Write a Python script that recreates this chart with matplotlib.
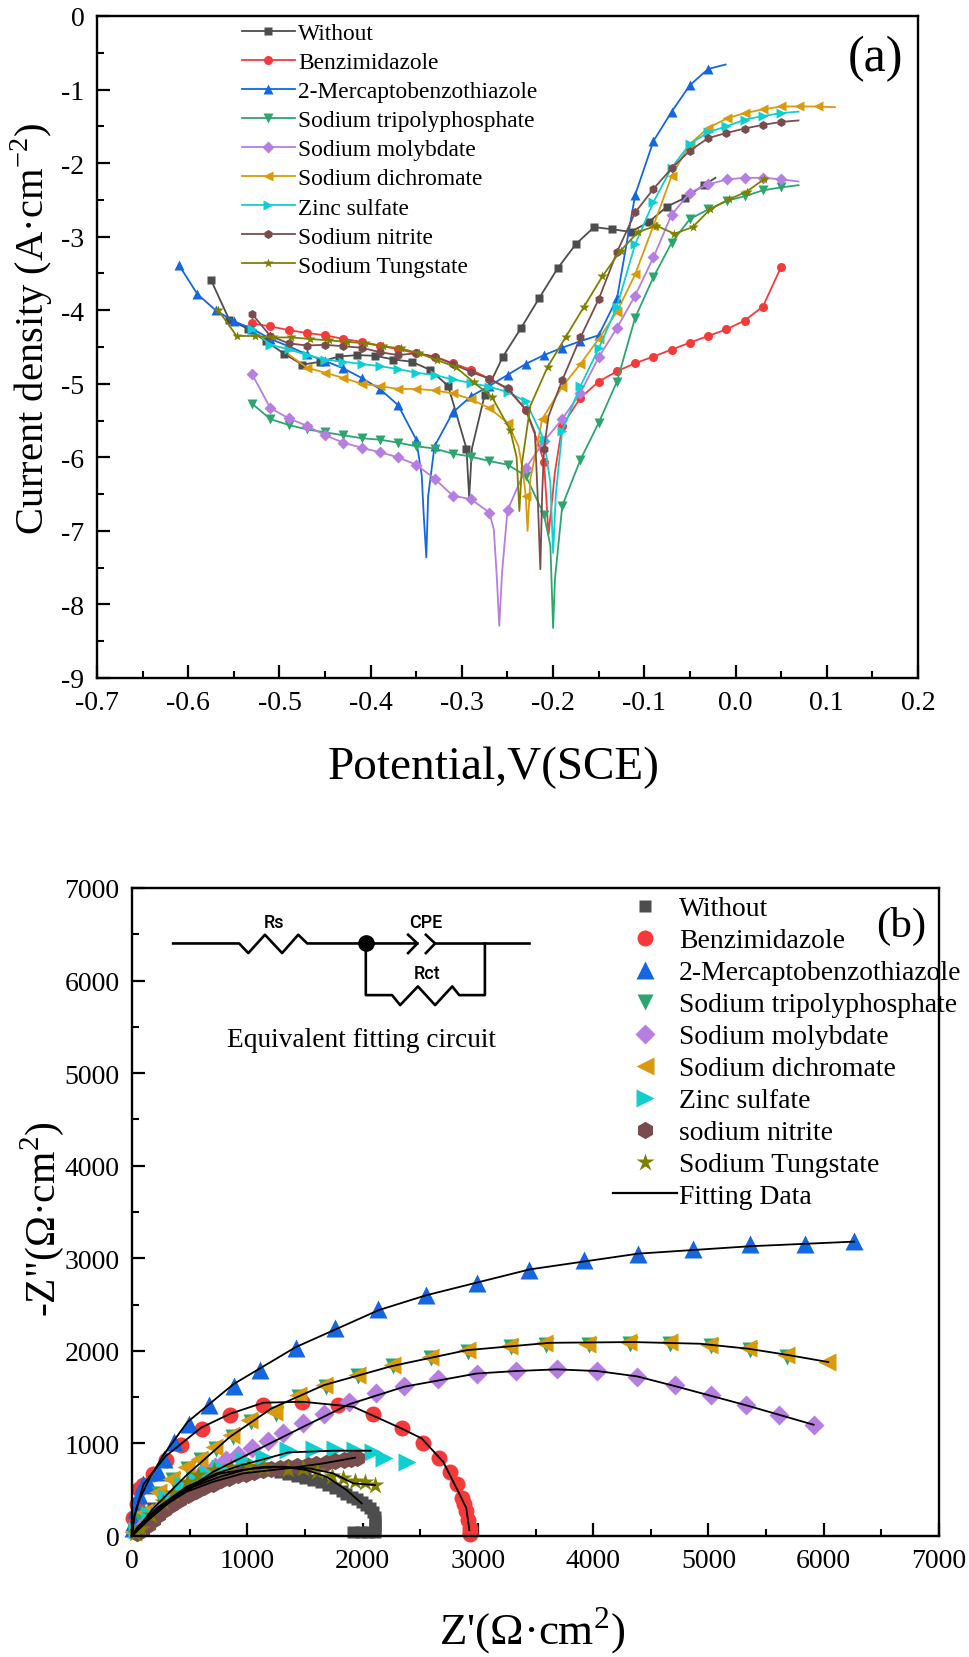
import matplotlib
matplotlib.use('Agg')
import matplotlib.pyplot as plt
from matplotlib.lines import Line2D
from matplotlib.ticker import MultipleLocator, FormatStrFormatter

plt.rcParams['font.family'] = ['Liberation Serif', 'DejaVu Serif']
plt.rcParams['mathtext.fontset'] = 'custom'
plt.rcParams['mathtext.rm'] = 'Liberation Serif'
plt.rcParams['axes.unicode_minus'] = False

W, H = 969, 1658

names_a = ['Without', 'Benzimidazole', '2-Mercaptobenzothiazole', 'Sodium tripolyphosphate',
           'Sodium molybdate', 'Sodium dichromate', 'Zinc sulfate', 'Sodium nitrite', 'Sodium Tungstate']
names_b = ['Without', 'Benzimidazole', '2-Mercaptobenzothiazole', 'Sodium tripolyphosphate',
           'Sodium molybdate', 'Sodium dichromate', 'Zinc sulfate', 'sodium nitrite', 'Sodium Tungstate']
colors = ['#4d4d4d', '#f63a3a', '#1467e0', '#2ba66f', '#b57ee0', '#d99b0c', '#10cfd0', '#794d4d', '#808000']
markers = ['s', 'o', '^', 'v', 'D', '<', '>', 'h', '*']

# (a) 极化曲线
V0 = [-0.575, -0.555, -0.535, -0.515, -0.495, -0.475, -0.455, -0.435, -0.415, -0.395, -0.375, -0.355, -0.335, -0.315, -0.295, -0.292, -0.289, -0.275, -0.255, -0.235, -0.215, -0.195, -0.175, -0.155, -0.135, -0.115, -0.095, -0.075, -0.055, -0.035, -0.022]
J0 = [-3.59, -4.13, -4.25, -4.42, -4.59, -4.74, -4.70, -4.63, -4.61, -4.62, -4.67, -4.70, -4.81, -5.03, -5.88, -6.55, -5.88, -5.15, -4.63, -4.24, -3.83, -3.43, -3.10, -2.87, -2.90, -2.935, -2.80, -2.59, -2.47, -2.30, -2.20]
skip0 = [15, 16, 30]

V1 = [-0.53, -0.51, -0.49, -0.47, -0.45, -0.43, -0.41, -0.39, -0.37, -0.35, -0.33, -0.31, -0.29, -0.27, -0.25, -0.23, -0.218, -0.21, -0.205, -0.198, -0.19, -0.17, -0.15, -0.13, -0.11, -0.09, -0.07, -0.05, -0.03, -0.01, 0.01, 0.03, 0.05]
J1 = [-4.18, -4.22, -4.27, -4.31, -4.34, -4.39, -4.43, -4.48, -4.53, -4.585, -4.63, -4.72, -4.81, -4.93, -5.07, -5.35, -5.75, -6.06, -7.05, -6.2, -5.57, -5.19, -4.97, -4.83, -4.72, -4.63, -4.535, -4.44, -4.35, -4.26, -4.14, -3.95, -3.41]
skip1 = [16, 18, 19]

V2 = [-0.61, -0.59, -0.57, -0.55, -0.53, -0.51, -0.49, -0.47, -0.45, -0.43, -0.41, -0.39, -0.37, -0.35, -0.344, -0.342, -0.339, -0.337, -0.33, -0.31, -0.29, -0.27, -0.25, -0.23, -0.21, -0.19, -0.17, -0.15, -0.13, -0.11, -0.09, -0.07, -0.05, -0.03, -0.011]
J2 = [-3.39, -3.78, -4.0, -4.15, -4.25, -4.39, -4.49, -4.6, -4.69, -4.79, -4.92, -5.07, -5.29, -5.76, -6.25, -6.75, -7.36, -6.53, -5.85, -5.39, -5.17, -5.03, -4.88, -4.73, -4.61, -4.51, -4.42, -4.34, -3.84, -2.43, -1.70, -1.30, -0.94, -0.72, -0.66]
skip2 = [14, 15, 16, 17, 34]

V3 = [-0.53, -0.51, -0.49, -0.47, -0.45, -0.43, -0.41, -0.39, -0.37, -0.35, -0.33, -0.31, -0.29, -0.27, -0.25, -0.23, -0.21, -0.203, -0.2, -0.198, -0.19, -0.17, -0.15, -0.13, -0.11, -0.09, -0.07, -0.05, -0.03, -0.009, 0.01, 0.03, 0.05, 0.069]
J3 = [-5.27, -5.48, -5.56, -5.62, -5.66, -5.70, -5.74, -5.76, -5.80, -5.85, -5.88, -5.95, -5.99, -6.05, -6.10, -6.25, -6.78, -7.2, -8.32, -7.66, -6.66, -6.03, -5.53, -4.97, -4.10, -3.55, -3.08, -2.76, -2.63, -2.51, -2.45, -2.37, -2.33, -2.30]
skip3 = [17, 18, 19, 33]

V4 = [-0.53, -0.51, -0.49, -0.47, -0.45, -0.43, -0.41, -0.39, -0.37, -0.35, -0.33, -0.31, -0.29, -0.27, -0.265, -0.262, -0.259, -0.256, -0.25, -0.23, -0.21, -0.19, -0.17, -0.15, -0.13, -0.11, -0.09, -0.07, -0.05, -0.03, -0.009, 0.01, 0.03, 0.05, 0.069]
J4 = [-4.87, -5.33, -5.47, -5.57, -5.70, -5.80, -5.87, -5.93, -6.0, -6.10, -6.29, -6.52, -6.57, -6.75, -6.98, -7.57, -8.29, -7.57, -6.72, -6.15, -5.78, -5.48, -5.12, -4.64, -4.24, -3.80, -3.28, -2.70, -2.40, -2.29, -2.22, -2.20, -2.20, -2.22, -2.25]
skip4 = [14, 15, 16, 17, 34]

V5 = [-0.49, -0.47, -0.45, -0.43, -0.41, -0.39, -0.37, -0.35, -0.33, -0.31, -0.29, -0.27, -0.25, -0.238, -0.233, -0.23, -0.228, -0.225, -0.212, -0.19, -0.17, -0.15, -0.13, -0.11, -0.09, -0.07, -0.05, -0.03, -0.009, 0.01, 0.03, 0.05, 0.07, 0.09, 0.109]
J5 = [-4.6, -4.78, -4.85, -4.92, -5.0, -5.03, -5.07, -5.07, -5.09, -5.13, -5.21, -5.33, -5.53, -5.85, -6.2, -6.53, -7.0, -6.30, -5.48, -5.04, -4.73, -4.39, -4.02, -3.51, -2.85, -2.17, -1.74, -1.52, -1.39, -1.32, -1.27, -1.23, -1.23, -1.23, -1.24]
skip5 = [0, 13, 14, 16, 17, 34]

V6 = [-0.53, -0.51, -0.49, -0.47, -0.45, -0.43, -0.41, -0.39, -0.37, -0.35, -0.33, -0.31, -0.29, -0.27, -0.25, -0.23, -0.21, -0.203, -0.2, -0.197, -0.19, -0.17, -0.15, -0.13, -0.11, -0.09, -0.07, -0.05, -0.03, -0.01, 0.01, 0.03, 0.05, 0.069]
J6 = [-4.26, -4.47, -4.53, -4.61, -4.67, -4.70, -4.73, -4.76, -4.80, -4.85, -4.88, -4.94, -4.99, -5.04, -5.11, -5.24, -5.76, -6.35, -7.3, -6.5, -5.64, -5.03, -4.52, -3.95, -3.10, -2.53, -2.06, -1.74, -1.58, -1.50, -1.41, -1.36, -1.32, -1.30]
skip6 = [17, 18, 19, 33]

V7 = [-0.53, -0.51, -0.49, -0.47, -0.45, -0.43, -0.41, -0.39, -0.37, -0.35, -0.33, -0.31, -0.29, -0.27, -0.25, -0.23, -0.22, -0.217, -0.214, -0.212, -0.21, -0.205, -0.19, -0.17, -0.15, -0.13, -0.11, -0.09, -0.07, -0.05, -0.03, -0.01, 0.01, 0.03, 0.05, 0.069]
J7 = [-4.05, -4.35, -4.45, -4.48, -4.47, -4.49, -4.51, -4.57, -4.61, -4.585, -4.63, -4.73, -4.84, -4.93, -5.06, -5.35, -5.66, -6.5, -7.52, -6.5, -5.89, -5.44, -4.95, -4.37, -3.85, -3.21, -2.67, -2.35, -2.07, -1.83, -1.66, -1.59, -1.53, -1.48, -1.44, -1.42]
skip7 = [16, 17, 18, 19, 21, 35]

V8 = [-0.567, -0.547, -0.527, -0.507, -0.487, -0.467, -0.446, -0.426, -0.406, -0.387, -0.367, -0.347, -0.327, -0.307, -0.287, -0.267, -0.247, -0.24, -0.237, -0.234, -0.225, -0.206, -0.186, -0.166, -0.146, -0.126, -0.107, -0.087, -0.067, -0.047, -0.028, -0.007, 0.012, 0.031]
J8 = [-4.0, -4.35, -4.35, -4.37, -4.37, -4.39, -4.41, -4.43, -4.45, -4.49, -4.52, -4.585, -4.68, -4.77, -4.98, -5.18, -5.63, -6.0, -6.73, -6.07, -5.30, -4.77, -4.36, -3.95, -3.54, -3.19, -2.94, -2.85, -2.96, -2.87, -2.63, -2.49, -2.39, -2.22]
skip8 = [17, 18, 19, 20]

series_a = [(V0, J0, skip0), (V1, J1, skip1), (V2, J2, skip2), (V3, J3, skip3), (V4, J4, skip4),
            (V5, J5, skip5), (V6, J6, skip6), (V7, J7, skip7), (V8, J8, skip8)]
ms_a = [5.5, 6.5, 7, 7, 6.5, 7, 7, 6.5, 7]

# (b) 阻抗谱 实测点
Zr0 = [26, 98, 185, 330, 532, 763, 966, 1139, 1284, 1356, 1428, 1500, 1572, 1640, 1702, 1760, 1818, 1860, 1905, 1950, 1992, 2030, 2064, 2090, 2107, 2107, 2107, 2107, 2107, 2050, 1985, 1920]
Zi0 = [40, 150, 300, 390, 530, 640, 700, 730, 694, 672, 651, 628, 604, 578, 550, 520, 489, 456, 424, 398, 370, 335, 299, 255, 209, 165, 119, 80, 47, 40, 40, 47]
Zr1 = [12, 40, 64, 98, 179, 295, 425, 607, 853, 1139, 1472, 1790, 2093, 2339, 2527, 2663, 2758, 2816, 2860, 2880, 2900, 2915, 2931, 2936, 2931]
Zi1 = [191, 349, 511, 551, 673, 817, 979, 1159, 1310, 1415, 1451, 1415, 1317, 1170, 1000, 838, 694, 558, 410, 350, 270, 170, 85, 45, 25]
Zr2 = [6, 20, 35, 64, 93, 150, 223, 280, 367, 497, 670, 887, 1110, 1422, 1760, 2136, 2550, 2989, 3446, 3923, 4389, 4869, 5357, 5837, 6265]
Zi2 = [83, 151, 290, 439, 565, 547, 691, 835, 1015, 1213, 1411, 1620, 1793, 2027, 2243, 2448, 2603, 2729, 2869, 2977, 3049, 3096, 3150, 3157, 3182]
Zr3 = [25, 80, 122, 238, 353, 483, 599, 729, 874, 1033, 1249, 1452, 1680, 1960, 2262, 2595, 2915, 3285, 3590, 3960, 4318, 4670, 5018, 5358, 5685]
Zi3 = [35, 180, 240, 456, 600, 726, 816, 942, 1068, 1230, 1320, 1500, 1612, 1724, 1832, 1920, 1992, 2038, 2068, 2060, 2078, 2078, 2050, 2014, 1935]
Zr4 = [40, 127, 243, 387, 517, 619, 720, 815, 922, 1044, 1182, 1307, 1486, 1665, 1885, 2116, 2362, 2657, 2989, 3330, 3683, 4036, 4383, 4707, 5025, 5329, 5615, 5912]
Zi4 = [47, 155, 299, 443, 586, 694, 749, 820, 874, 946, 1029, 1108, 1216, 1317, 1450, 1540, 1622, 1694, 1755, 1784, 1800, 1778, 1717, 1627, 1526, 1411, 1303, 1202]
Zr5 = [12, 107, 223, 338, 468, 584, 714, 859, 1018, 1234, 1437, 1665, 1949, 2252, 2585, 2903, 3270, 3574, 3949, 4305, 4658, 5005, 5346, 5672, 6031]
Zi5 = [47, 259, 475, 619, 745, 835, 961, 1087, 1249, 1339, 1519, 1630, 1737, 1845, 1935, 2007, 2054, 2084, 2077, 2095, 2095, 2066, 2030, 1951, 1879]
Zr6 = [40, 156, 301, 445, 555, 656, 763, 974, 1148, 1350, 1581, 1761, 1934, 2093, 2186, 2388]
Zi6 = [65, 227, 407, 551, 619, 673, 730, 817, 853, 932, 936, 939, 928, 910, 838, 802]
Zr7 = [40, 85, 136, 180, 223, 280, 338, 410, 483, 555, 627, 700, 772, 845, 916, 990, 1061, 1135, 1206, 1280, 1350, 1435, 1524, 1600, 1680, 1760, 1840, 1900, 1949]
Zi7 = [29, 70, 115, 170, 223, 280, 331, 385, 439, 485, 529, 567, 601, 630, 655, 675, 691, 710, 727, 738, 745, 752, 762, 778, 792, 806, 820, 830, 838]
Zr8 = [26, 78, 165, 272, 358, 474, 575, 714, 859, 1003, 1148, 1350, 1486, 1602, 1732, 1833, 1934, 2021, 2107]
Zi8 = [29, 79, 223, 371, 460, 586, 658, 709, 745, 756, 745, 720, 730, 701, 651, 622, 594, 579, 550]

series_b = [(Zr0, Zi0), (Zr1, Zi1), (Zr2, Zi2), (Zr3, Zi3), (Zr4, Zi4), (Zr5, Zi5), (Zr6, Zi6), (Zr7, Zi7), (Zr8, Zi8)]
ms_b = [9, 11.5, 13, 11.5, 10, 13, 13, 12.5, 13.5]

# 拟合曲线
fit_x0 = [0, 127, 330, 532, 763, 966, 1139, 1312, 1515, 1688, 1862, 1992]
fit_y0 = [0, 155, 371, 532, 640, 712, 748, 748, 712, 640, 496, 353]
fit_x1 = [0, 15, 100, 290, 600, 850, 1140, 1480, 1920, 2340, 2513, 2700, 2845, 2900, 2926]
fit_y1 = [0, 200, 560, 860, 1170, 1320, 1440, 1450, 1396, 1160, 1054, 800, 442, 300, 65]
fit_x2 = [0, 20, 60, 150, 270, 480, 880, 1420, 2140, 2550, 3450, 4390, 5360, 6265]
fit_y2 = [0, 200, 380, 620, 870, 1230, 1640, 2040, 2440, 2600, 2880, 3050, 3130, 3180]
fit_x4 = [0, 127, 358, 705, 1052, 1486, 1885, 2362, 2989, 3331, 3683, 4036, 4383, 4707, 5331, 5912]
fit_y4 = [0, 173, 406, 694, 910, 1180, 1424, 1613, 1755, 1782, 1800, 1782, 1724, 1620, 1411, 1202]
fit_x5 = [0, 40, 185, 474, 850, 1211, 1665, 2252, 2903, 3625, 4348, 4927, 5346, 5678, 6040]
fit_y5 = [0, 65, 299, 658, 1072, 1378, 1630, 1835, 2007, 2087, 2095, 2077, 2023, 1958, 1879]
fit_x6 = [0, 40, 214, 474, 734, 951, 1168, 1356, 1746, 2070]
fit_y6 = [0, 83, 299, 532, 676, 766, 838, 903, 921, 921]
fit_x7 = [0, 69, 243, 474, 705, 966, 1341, 1659, 1934]
fit_y7 = [0, 119, 299, 479, 586, 677, 730, 784, 846]
fit_x8 = [0, 40, 214, 474, 763, 1052, 1312, 1544, 1746, 1920, 2107]
fit_y8 = [0, 65, 281, 515, 676, 730, 748, 730, 676, 569, 550]
fits = [(fit_x0, fit_y0), (fit_x1, fit_y1), (fit_x2, fit_y2), (fit_x4, fit_y4),
        (fit_x5, fit_y5), (fit_x6, fit_y6), (fit_x7, fit_y7), (fit_x8, fit_y8)]

# 等效电路
wire_x = [357, 929, 1009, 1153, 1302, 1442, 1520, 2475]
wire_y = [6401, 6401, 6297, 6495, 6297, 6495, 6401, 6401]
wire2_x = [2629, 3443]
wire2_y = [6401, 6401]
cpe1_x = [2395, 2475, 2395]
cpe2_x = [2549, 2629, 2549]
cpe_y = [6495, 6401, 6297]
rct_x = [2028, 2028, 2256, 2326, 2480, 2629, 2778, 2838, 3061, 3061]
rct_y = [6401, 5843, 5843, 5735, 5937, 5735, 5937, 5843, 5843, 6401]


def place(fig, left, top, right, bottom):
    return fig.add_axes([left / W, 1 - bottom / H, (right - left) / W, (bottom - top) / H])


def style(ax):
    for s in ax.spines.values():
        s.set_linewidth(1.7)
    ax.tick_params(which='major', direction='in', length=9.5, width=1.6, labelsize=20, pad=9)
    ax.tick_params(which='minor', direction='in', length=4.8, width=1.5)


fig = plt.figure(figsize=(W / 100, H / 100), dpi=100)

# 图(a)
ax1 = place(fig, 97, 17, 918, 679)
for i, (x, y, skip) in enumerate(series_a):
    keep = [k for k in range(len(x)) if k not in skip]
    ax1.plot(x, y, color=colors[i], lw=1.3, marker=markers[i], ms=ms_a[i], markevery=keep,
             mec='none', label=names_a[i])
ax1.set_xlim(-0.7, 0.2)
ax1.set_ylim(-9, 0)
ax1.xaxis.set_major_locator(MultipleLocator(0.1))
ax1.xaxis.set_minor_locator(MultipleLocator(0.05))
ax1.yaxis.set_major_locator(MultipleLocator(1))
ax1.yaxis.set_minor_locator(MultipleLocator(0.5))
ax1.xaxis.set_major_formatter(FormatStrFormatter('%.1f'))
style(ax1)
ax1.legend(loc='upper left', bbox_to_anchor=((242 - 97) / 821, 1 - (7) / 662), frameon=False,
           fontsize=16.8, handlelength=2.25, handletextpad=0.15, labelspacing=0.33,
           borderpad=0, borderaxespad=0)
fig.text(876 / W, 1 - 59 / H, '(a)', fontsize=36, ha='center', va='center')
fig.text(494 / W, 1 - 768 / H, 'Potential,V(SCE)', fontsize=34, ha='center', va='center')
fig.text(32 / W, 1 - 329 / H, r'Current density (A·cm$^{-2}$)', fontsize=29.2, rotation=90, ha='center', va='center')

# 图(b)
ax2 = place(fig, 132, 889, 939, 1537)
for i, (x, y) in enumerate(series_b):
    ax2.plot(x, y, ls='none', color=colors[i], marker=markers[i], ms=ms_b[i], mec='none', clip_on=False)
for x, y in fits:
    ax2.plot(x, y, color='black', lw=1.3)
ax2.set_xlim(0, 7000)
ax2.set_ylim(0, 7000)
ax2.xaxis.set_major_locator(MultipleLocator(1000))
ax2.xaxis.set_minor_locator(MultipleLocator(500))
ax2.yaxis.set_major_locator(MultipleLocator(1000))
ax2.yaxis.set_minor_locator(MultipleLocator(500))
style(ax2)

handles = [Line2D([], [], ls='none', color=colors[i], marker=markers[i], ms=ms_b[i], mec='none') for i in range(9)]
handles.append(Line2D([], [], color='black', lw=1.6))
ax2.legend(handles, names_b + ['Fitting Data'], loc='upper left', bbox_to_anchor=((613 - 132) / 807, 1 - (8) / 648),
           frameon=False, fontsize=19.9, handlelength=2.3, handletextpad=0.08, labelspacing=0.24,
           borderpad=0, borderaxespad=0)
fig.text(901 / W, 1 - 926 / H, '(b)', fontsize=31, ha='center', va='center')

ax2.plot(wire_x, wire_y, color='black', lw=1.9)
ax2.plot(wire2_x, wire2_y, color='black', lw=1.9)
ax2.plot(cpe1_x, cpe_y, color='black', lw=1.9)
ax2.plot(cpe2_x, cpe_y, color='black', lw=1.9)
ax2.plot(rct_x, rct_y, color='black', lw=1.9)
ax2.plot([2028], [6401], 'o', color='black', ms=11)
ax2.text(1235, 6635, 'Rs', fontsize=13, family='Roboto', weight='medium', ha='center', va='center')
ax2.text(2549, 6635, 'CPE', fontsize=13, family='Roboto', weight='medium', ha='center', va='center')
ax2.text(2560, 6081, 'Rct', fontsize=13, family='Roboto', weight='medium', ha='center', va='center')
ax2.text(1990, 5368, 'Equivalent fitting circuit', fontsize=19.7, ha='center', va='center')

fig.text(532 / W, 1 - 1631 / H, r"Z'($\mathrm{\Omega}$·cm$^{2}$)", fontsize=32.4, ha='center', va='center')
fig.text(42 / W, 1 - 1219 / H, r'-Z"($\mathrm{\Omega}$·cm$^{2}$)', fontsize=30, rotation=90, ha='center', va='center')

fig.savefig('out.png', dpi=100)
